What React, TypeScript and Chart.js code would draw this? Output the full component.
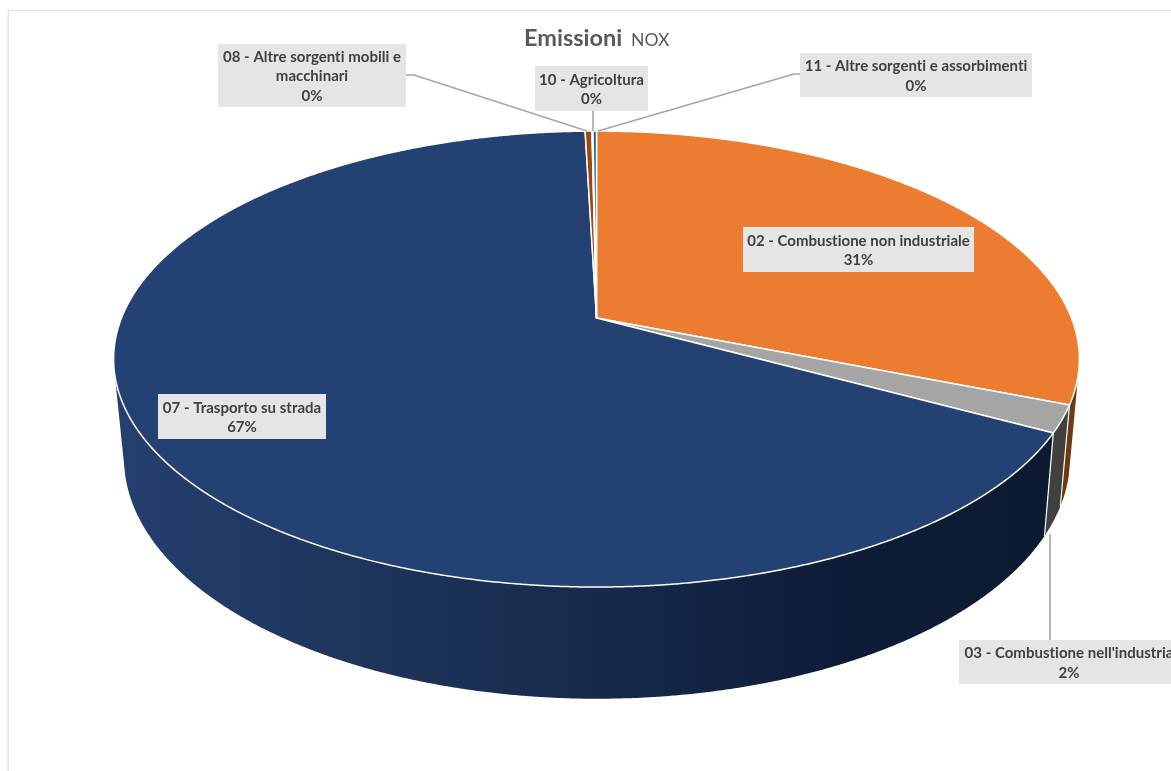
import React, { useEffect, useRef } from "react";
import { Chart, registerables, Plugin } from "chart.js";

Chart.register(...registerables);

// NOx emissions by source sector, in percent of the total.
const categories = [
  "02 - Combustione non industriale",
  "03 - Combustione nell'industria",
  "07 - Trasporto su strada",
  "08 - Altre sorgenti mobili e macchinari",
  "10 - Agricoltura",
  "11 - Altre sorgenti e assorbimenti",
];
const shares = [31.0, 1.9, 66.65, 0.27, 0.04, 0.14];
const topColors = ["#EC7C30", "#A5A5A5", "#244174", "#9E480E", "#997300", "#255E91"];
const rimColors = ["#6E3A12", "#404040", "", "#4A2207", "#473600", "#112C44"];

const titleBold = "Emissioni";
const titleLight = "NOX";

const FONT = "Lato, Carlito, 'Noto Sans', sans-serif";
const WIDTH = 1171;
const HEIGHT = 771;

// Perspective of the disc: k foreshortens the far side, so the apex sits above the ellipse centre.
const PERSPECTIVE = -0.18;
const topFace = { x: 596.5, y: 318, a: 220.6, b: 475 };
const bottomFace = { x: 597, y: 414.6, a: 233, b: 465.3 };
type Face = typeof topFace;

// Angles where the rim wall meets the disc's silhouette; beyond them the wall faces away.
const WALL_FROM = 0.25;
const WALL_TO = Math.PI - 0.25;

// Callout placement per category, in the same order as the categories.
const callouts = [
  { x: 743, y: 227, w: 231, h: 45, line: null },
  { x: 959, y: 640, w: 220, h: 44, line: [[1050, 640], [1050, 534]] },
  { x: 158, y: 394, w: 168, h: 45, line: null },
  { x: 218, y: 44, w: 188, h: 63, line: [[406, 75], [414, 75], [587, 131]] },
  { x: 535, y: 66, w: 113, h: 45, line: [[593, 111], [593, 131]] },
  { x: 800, y: 53, w: 232, h: 44, line: [[800, 74], [794, 74], [598, 131]] },
];

function project(face: Face, angle: number): [number, number] {
  const u = Math.cos(angle);
  const v = Math.sin(angle);
  const d = 1 + PERSPECTIVE * v;
  return [face.x + (face.b * u) / d, face.y + (face.a * v) / d];
}

function arcPoints(face: Face, from: number, to: number): [number, number][] {
  const steps = Math.max(2, Math.ceil(Math.abs(to - from) / 0.004));
  const pts: [number, number][] = [];
  for (let i = 0; i <= steps; i++) pts.push(project(face, from + ((to - from) * i) / steps));
  return pts;
}

function wrapText(ctx: CanvasRenderingContext2D, text: string, maxWidth: number): string[] {
  const lines: string[] = [];
  let current = "";
  for (const word of text.split(" ")) {
    const next = current ? current + " " + word : word;
    if (ctx.measureText(next).width > maxWidth && current) {
      lines.push(current);
      current = word;
    } else current = next;
  }
  if (current) lines.push(current);
  return lines;
}

const pie3d: Plugin<"pie"> = {
  id: "pie3d",
  beforeDatasetsDraw(chart) {
    const ctx = chart.ctx;
    const arcs = chart.getDatasetMeta(0).data as any[];

    ctx.save();
    // Frame of the chart area
    ctx.fillStyle = "#E4E4E4";
    ctx.fillRect(8, 10, WIDTH - 8, 1);
    ctx.fillRect(7.5, 10, 1.5, HEIGHT - 10);

    // Rim walls, with the grey wall last so its seams stay on top
    const wallGradient = ctx.createLinearGradient(113, 0, 1080, 0);
    wallGradient.addColorStop(0, "#24406F");
    wallGradient.addColorStop(0.28, "#1D3359");
    wallGradient.addColorStop(0.52, "#16294B");
    wallGradient.addColorStop(0.75, "#0E1D37");
    wallGradient.addColorStop(1, "#0C1A30");

    const wallOrder = [0, 2, 1];
    for (const i of wallOrder) {
      const from = Math.max(arcs[i].startAngle, WALL_FROM);
      const to = Math.min(arcs[i].endAngle, WALL_TO);
      const top = arcPoints(topFace, from, to);
      const bottom = arcPoints(bottomFace, to, from);
      ctx.beginPath();
      [...top, ...bottom].forEach(([x, y], n) => (n ? ctx.lineTo(x, y) : ctx.moveTo(x, y)));
      ctx.closePath();
      ctx.fillStyle = rimColors[i] || wallGradient;
      ctx.fill();
      if (i === 1) {
        // Vertical seams either side of the grey wall
        ctx.strokeStyle = "#FFFFFF";
        ctx.lineWidth = 1.2;
        for (const a of [from, to]) {
          const [tx, ty] = project(topFace, a);
          const [bx, by] = project(bottomFace, a);
          ctx.beginPath();
          ctx.moveTo(tx, ty);
          ctx.lineTo(bx, by);
          ctx.stroke();
        }
      }
    }

    // Top face of each slice
    arcs.forEach((arc, i) => {
      ctx.beginPath();
      ctx.moveTo(topFace.x, topFace.y);
      arcPoints(topFace, arc.startAngle, arc.endAngle).forEach(([x, y]) => ctx.lineTo(x, y));
      ctx.closePath();
      ctx.fillStyle = topColors[i];
      ctx.fill();
      ctx.strokeStyle = "#FFFFFF";
      ctx.lineWidth = 1.5;
      ctx.lineJoin = "round";
      ctx.stroke();
    });

    // Leader lines
    ctx.strokeStyle = "#A6A6A6";
    ctx.lineWidth = 1.6;
    for (const c of callouts) {
      if (!c.line) continue;
      ctx.beginPath();
      c.line.forEach(([x, y], n) => (n ? ctx.lineTo(x, y) : ctx.moveTo(x, y)));
      ctx.stroke();
    }

    // Callout boxes with category and rounded share; the tiny spacing turns Lato's ligatures off
    (ctx as any).letterSpacing = "0.01px";
    const total = shares.reduce((s, v) => s + v, 0);
    ctx.textAlign = "center";
    ctx.textBaseline = "alphabetic";
    callouts.forEach((c, i) => {
      ctx.fillStyle = "#E5E5E5";
      ctx.fillRect(c.x, c.y, c.w, c.h);
      ctx.font = `bold 15px ${FONT}`;
      ctx.fillStyle = "#404040";
      const lines = [...wrapText(ctx, categories[i], c.w - 4), `${Math.round((shares[i] / total) * 100)}%`];
      const cx = c.x + c.w / 2;
      const first = c.y + (c.h - lines.length * 19.5) / 2 + 15.5;
      lines.forEach((line, n) => ctx.fillText(line, cx, first + n * 19.5));
    });

    // Title: bold word followed by a regular one
    ctx.textAlign = "left";
    ctx.fillStyle = "#595959";
    ctx.font = `bold 23.5px ${FONT}`;
    ctx.fillText(titleBold, 524, 46);
    ctx.font = `400 17.6px ${FONT}`;
    ctx.fillText(titleLight, 631, 46);
    ctx.restore();

    return false;
  },
};

export default function App() {
  const ref = useRef<HTMLCanvasElement>(null);

  useEffect(() => {
    const chart = new Chart(ref.current!, {
      type: "pie",
      data: {
        labels: categories,
        datasets: [{ data: shares, backgroundColor: topColors }],
      },
      options: {
        responsive: false,
        animation: false,
        plugins: { legend: { display: false }, tooltip: { enabled: false } },
      },
      plugins: [pie3d],
    });
    return () => chart.destroy();
  }, []);

  return (
    <div style={{ position: "fixed", left: 0, top: 0, width: WIDTH, height: HEIGHT, overflow: "hidden", background: "#fff" }}>
      <canvas ref={ref} width={WIDTH} height={HEIGHT} style={{ display: "block" }} />
    </div>
  );
}
